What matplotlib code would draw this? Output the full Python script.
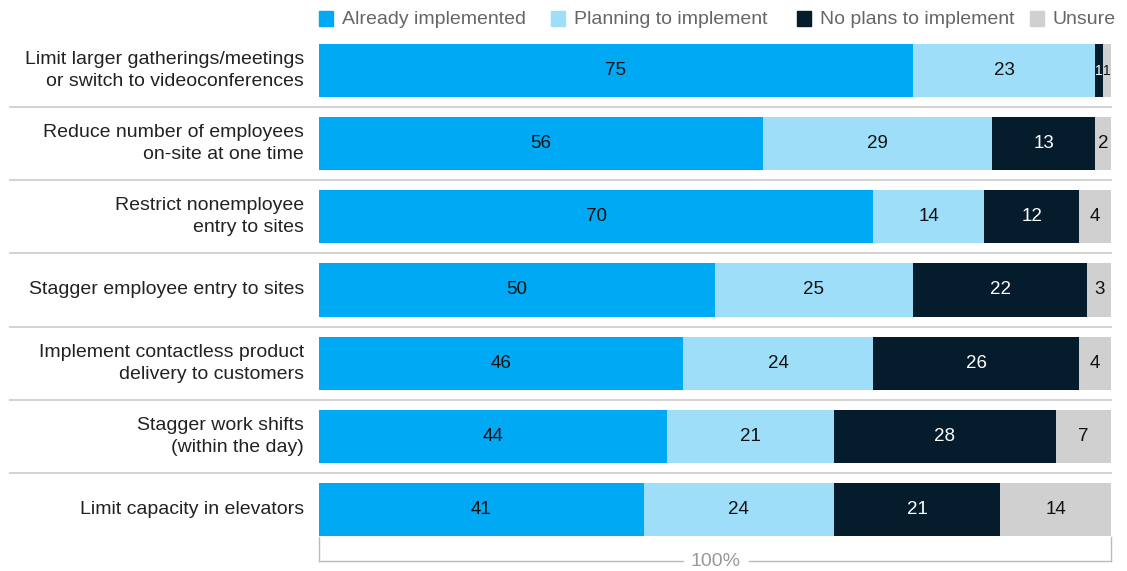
import numpy as np
import matplotlib.pyplot as plt
from matplotlib.patches import Rectangle
import matplotlib.transforms as mtransforms

plt.rcParams['font.family'] = ['Liberation Sans', 'DejaVu Sans']

categories = [
    "Limit larger gatherings/meetings\nor switch to videoconferences",
    "Reduce number of employees\non-site at one time",
    "Restrict nonemployee\nentry to sites",
    "Stagger employee entry to sites",
    "Implement contactless product\ndelivery to customers",
    "Stagger work shifts\n(within the day)",
    "Limit capacity in elevators",
]
already = [75, 56, 70, 50, 46, 44, 41]
planning = [23, 29, 14, 25, 24, 21, 24]
no_plans = [1, 13, 12, 22, 26, 28, 21]
unsure = [1, 2, 4, 3, 4, 7, 14]

series_names = ["Already implemented", "Planning to implement",
                "No plans to implement", "Unsure"]
colors = ["#00A9F4", "#9EDEF8", "#051C2C", "#D0D0D0"]
text_colors = ["#111111", "#111111", "#FFFFFF", "#111111"]

W, H = 1127, 571
fig = plt.figure(figsize=(W / 100, H / 100), dpi=100)
ax = fig.add_axes([319 / W, 1 - 546 / H, (1111 - 319) / W, (546 - 34) / H])

y = np.arange(len(categories))
left = np.zeros(len(categories))
for vals, col, tcol in zip([already, planning, no_plans, unsure], colors, text_colors):
    vals = np.array(vals, dtype=float)
    ax.barh(y, vals, left=left, height=0.725, color=col, edgecolor='none')
    for yi, l, v in zip(y, left, vals):
        # very thin segments get a smaller label so neighbours don't collide
        fs = 10 if v < 2 else 13.5
        ax.text(l + v / 2, yi, f"{int(v)}", ha='center', va='center',
                fontsize=fs, color=tcol)
    left = left + vals

ax.set_xlim(0, 100)
ax.set_ylim(len(categories) - 0.5, -0.5)
ax.axis('off')

# category labels
for yi, cat in zip(y, categories):
    ax.text(-1.9, yi, cat, ha='right', va='center', fontsize=14,
            color='#222222', linespacing=1.4)

# separators
trans = mtransforms.blended_transform_factory(ax.transAxes, ax.transData)
x0 = (10 - 319) / 792
for yi in y[:-1]:
    ax.plot([x0, 1.0], [yi + 0.5, yi + 0.5], color='#D3D3D3', lw=1.5,
            transform=trans, clip_on=False)

# 100% bracket
fx = lambda px: px / W
fy = lambda py: 1 - py / H
lc = '#BBBBBB'
fig.add_artist(plt.Line2D([fx(319), fx(319)], [fy(537), fy(561)], color=lc, lw=1))
fig.add_artist(plt.Line2D([fx(1111), fx(1111)], [fy(537), fy(561)], color=lc, lw=1))
fig.add_artist(plt.Line2D([fx(319), fx(683)], [fy(561), fy(561)], color=lc, lw=1))
fig.add_artist(plt.Line2D([fx(749), fx(1111)], [fy(561), fy(561)], color=lc, lw=1))
fig.text(fx(716), fy(561), "100%", ha='center', va='center', fontsize=14,
         color='#999999')

# legend
sq_x = [319, 551, 797, 1030]
for sx, name, col in zip(sq_x, series_names, colors):
    fig.add_artist(Rectangle((fx(sx), fy(26)), 14 / W, 15 / H, color=col,
                             transform=fig.transFigure))
    fig.text(fx(sx + 23), fy(19), name, ha='left', va='center',
             fontsize=14, color='#666666')

fig.savefig("out.png", dpi=100)
